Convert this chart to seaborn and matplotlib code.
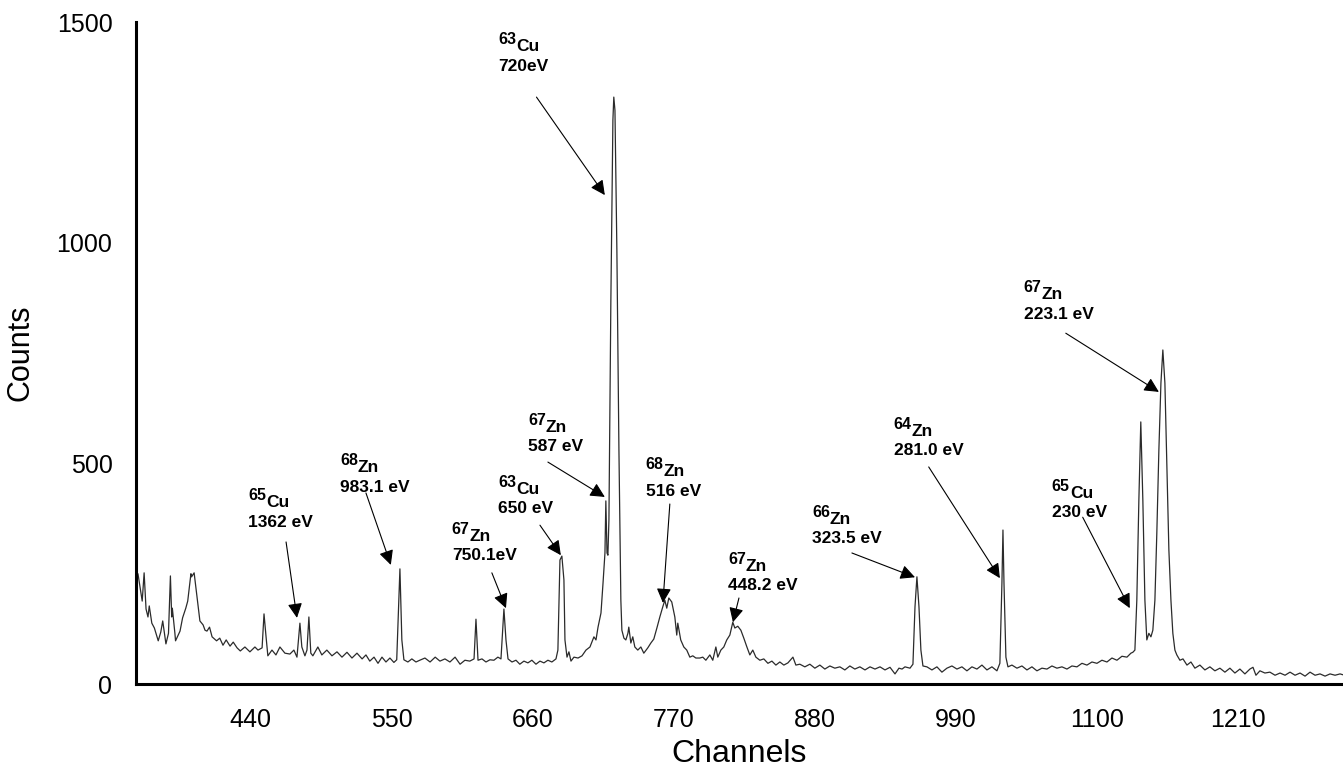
import matplotlib
matplotlib.use('Agg')
import matplotlib.pyplot as plt
import seaborn as sns
import pandas as pd

# spectrum (channel, counts)
channels = [352.2, 353.8, 355.5, 357.0, 358.5, 360.0, 361.0, 363.0, 365.0, 368.0,
            370.0, 371.5, 374.0, 376.0, 377.5, 378.5, 379.0, 381.0, 381.5, 385.0,
            387.0, 389.5, 391.0, 393.5, 394.0, 396.0, 398.0, 400.5, 403.0, 404.5,
            406.0, 408.0, 410.0, 413.5, 416.0, 418.5, 421.0, 424.0, 426.5, 429.5,
            432.0, 435.6, 439.5, 443.4, 445.8, 449.0, 450.5, 452.0, 453.5, 456.7,
            459.8, 462.9, 466.8, 470.7, 473.8, 476.2, 478.5, 480.0, 482.4, 484.0,
            485.5, 487.0, 488.6, 492.5, 495.6, 499.5, 503.5, 507.4, 511.3, 515.2,
            519.1, 523.0, 527.0, 530.0, 533.0, 536.3, 539.4, 542.5, 545.6, 548.7,
            551.8, 554.0, 556.5, 558.0, 559.6, 562.7, 565.8, 569.0, 572.0, 576.0,
            580.0, 584.0, 587.7, 591.6, 595.5, 599.5, 603.4, 607.2, 611.0, 614.3,
            615.8, 617.4, 620.5, 623.6, 626.7, 629.8, 632.9, 635.3, 637.6, 639.2,
            640.8, 643.9, 647.0, 650.0, 653.2, 656.3, 659.4, 662.6, 665.7, 668.8,
            671.9, 675.0, 678.2, 679.7, 681.3, 682.8, 684.4, 685.2, 686.8, 688.3,
            689.9, 692.2, 695.4, 698.5, 701.6, 704.7, 707.8, 709.4, 711.0, 713.3,
            714.9, 716.4, 717.1, 718.0, 718.7, 719.5, 721.0, 722.6, 723.3, 724.2,
            725.7, 727.3, 728.8, 729.6, 731.2, 732.7, 734.3, 735.0, 736.6, 738.1,
            739.7, 742.0, 744.4, 746.7, 749.8, 752.2, 754.5, 756.9, 759.2, 761.5,
            763.1, 764.6, 766.2, 768.5, 770.9, 772.4, 773.2, 775.5, 777.9, 780.2,
            782.6, 784.9, 787.3, 790.4, 792.7, 795.1, 798.2, 800.5, 802.9, 804.4,
            806.8, 809.1, 811.4, 813.8, 816.1, 817.7, 820.0, 822.4, 824.7, 827.1,
            829.4, 831.7, 834.1, 837.2, 840.3, 843.5, 846.6, 849.7, 852.8, 855.9,
            859.1, 863.0, 865.3, 868.4, 872.3, 876.2, 880.1, 884.0, 887.9, 891.8,
            895.7, 899.6, 903.5, 907.4, 911.3, 915.2, 919.2, 923.1, 927.0, 930.9,
            934.8, 938.7, 942.6, 945.7, 948.1, 950.4, 954.3, 956.6, 958.2, 959.7,
            961.3, 962.8, 964.4, 967.5, 971.4, 975.3, 979.2, 983.1, 987.0, 990.9,
            994.8, 998.7, 1002.6, 1006.5, 1010.4, 1014.3, 1018.2, 1022.1, 1024.4, 1026.0,
            1026.8, 1027.6, 1029.1, 1030.7, 1033.8, 1037.7, 1041.6, 1045.5, 1049.4, 1053.3,
            1057.2, 1061.1, 1065.0, 1068.9, 1072.8, 1076.7, 1080.6, 1084.5, 1088.4, 1092.3,
            1096.2, 1100.1, 1104.0, 1107.9, 1111.8, 1115.7, 1119.6, 1123.5, 1126.6, 1128.1,
            1129.7, 1131.2, 1132.8, 1134.3, 1135.9, 1137.5, 1139.0, 1140.6, 1142.2, 1143.7,
            1145.3, 1146.8, 1148.4, 1150.0, 1151.5, 1153.1, 1154.7, 1156.2, 1157.8, 1159.3,
            1160.9, 1162.4, 1164.8, 1167.2, 1170.3, 1173.4, 1176.5, 1180.4, 1184.3, 1188.2,
            1192.1, 1196.0, 1199.9, 1203.8, 1207.7, 1211.6, 1215.5, 1219.4, 1221.8, 1224.1,
            1227.2, 1231.1, 1235.0, 1239.0, 1242.9, 1246.8, 1250.7, 1254.6, 1258.5, 1262.4,
            1266.3, 1270.2, 1274.1, 1278.0, 1281.9, 1285.8, 1289.7, 1292.0]
counts = [250, 220, 188, 252, 170, 152, 177, 138, 127, 98,
          118, 143, 91, 115, 245, 152, 172, 115, 98, 120,
          150, 172, 188, 250, 243, 252, 204, 143, 134, 122,
          120, 129, 107, 98, 104, 88, 100, 86, 95, 82,
          75, 84, 73, 84, 77, 82, 159, 110, 64, 77,
          66, 84, 70, 68, 77, 61, 138, 84, 64, 77,
          152, 70, 64, 84, 66, 77, 64, 73, 61, 72,
          59, 70, 57, 66, 52, 61, 47, 61, 50, 59,
          49, 55, 261, 100, 55, 50, 57, 50, 54, 59,
          50, 61, 52, 57, 50, 61, 45, 54, 52, 57,
          147, 54, 57, 50, 55, 54, 61, 57, 170, 100,
          57, 50, 54, 45, 52, 48, 54, 45, 52, 48,
          54, 50, 57, 77, 281, 290, 236, 100, 61, 73,
          52, 61, 59, 64, 77, 84, 107, 100, 129, 161,
          229, 297, 415, 297, 292, 372, 866, 1278, 1330, 1300,
          983, 530, 190, 122, 104, 100, 115, 129, 93, 107,
          84, 77, 84, 70, 82, 93, 102, 127, 152, 175,
          190, 172, 195, 186, 152, 111, 138, 100, 84, 77,
          61, 64, 59, 59, 61, 54, 66, 54, 84, 61,
          77, 84, 100, 111, 140, 127, 131, 122, 104, 84,
          66, 77, 61, 54, 57, 47, 52, 43, 50, 43,
          48, 61, 43, 45, 39, 45, 36, 43, 34, 41,
          36, 39, 32, 41, 34, 39, 32, 39, 34, 39,
          32, 38, 23, 36, 34, 39, 36, 45, 175, 243,
          175, 77, 41, 39, 32, 39, 27, 36, 41, 34,
          39, 30, 39, 34, 43, 32, 39, 30, 47, 229,
          349, 229, 61, 39, 43, 36, 41, 32, 39, 30,
          36, 34, 41, 36, 39, 34, 41, 39, 47, 43,
          50, 47, 54, 50, 59, 54, 63, 61, 70, 72,
          77, 190, 417, 594, 417, 190, 100, 115, 107, 122,
          190, 342, 530, 682, 757, 682, 492, 304, 190, 115,
          77, 66, 54, 57, 43, 50, 36, 43, 32, 39,
          30, 36, 27, 36, 25, 34, 23, 34, 38, 20,
          30, 25, 27, 20, 25, 20, 27, 20, 25, 18,
          27, 20, 23, 18, 23, 20, 23, 21]

# peak labels
masses = ['65', '68', '67', '63', '67', '63', '68', '67', '66', '64', '65', '67']
elements = ['Cu', 'Zn', 'Zn', 'Cu', 'Zn', 'Cu', 'Zn', 'Zn', 'Zn', 'Zn', 'Cu', 'Zn']
energies = ['1362 eV', '983.1 eV', '750.1eV', '650 eV', '587 eV', '720eV',
            '516 eV', '448.2 eV', '323.5 eV', '281.0 eV', '230 eV', '223.1 eV']

# layout of the labels and arrows (data coords)
label_pos = [(438, 444), (509.7, 523), (597, 367), (633, 474), (656.3, 614), (633, 1477),
             (748.3, 514), (812.3, 299), (877.8, 406), (941.6, 605), (1064.9, 465), (1043, 915)]
arrow_tail = [(467.7, 322), (530, 433), (628.2, 252), (665.7, 360), (671.9, 503), (663, 1330),
              (767, 408), (820.9, 195), (909, 297), (968.9, 492), (1089, 378), (1075.8, 795)]
arrow_head = [(476.2, 150), (549.4, 270), (639.2, 172), (682, 292), (716.3, 424), (716.3, 1108),
              (761.6, 184), (816.2, 140), (958.2, 242), (1024.4, 240), (1125.7, 172), (1148.4, 662)]

sns.set_style('white')
plt.rcParams['font.family'] = ['Liberation Sans', 'DejaVu Sans']
for k in ['text.color', 'axes.labelcolor', 'xtick.color', 'ytick.color']:
    plt.rcParams[k] = 'black'

df = pd.DataFrame({'Channels': channels, 'Counts': counts})

fig = plt.figure(figsize=(13.43, 7.8), dpi=100)
ax = fig.add_axes([0.1013, 0.123, 0.8987, 0.8487])
sns.lineplot(data=df, x='Channels', y='Counts', ax=ax, color='#2b2b2b',
             lw=0.9, estimator=None, sort=False)

for m, el, en, pos, tail, head in zip(masses, elements, energies, label_pos, arrow_tail, arrow_head):
    # mass number raised, element name set a little lower, energy underneath
    ax.annotate(m, xy=pos, xytext=(0, 0), textcoords='offset points',
                ha='left', va='top', fontsize=11.5, fontweight='bold')
    ax.annotate(el, xy=pos, xytext=(13, -5), textcoords='offset points',
                ha='left', va='top', fontsize=12.5, fontweight='bold')
    ax.annotate(en, xy=pos, xytext=(0, -19), textcoords='offset points',
                ha='left', va='top', fontsize=12.5, fontweight='bold')
    ax.annotate('', xy=head, xytext=tail,
                arrowprops=dict(arrowstyle='-|>', mutation_scale=22, lw=0.8,
                                color='black', shrinkA=0, shrinkB=0))

ax.set_xlim(350.7, 1292)
ax.set_ylim(0, 1500)
ax.set_xticks([440, 550, 660, 770, 880, 990, 1100, 1210])
ax.set_yticks([0, 500, 1000, 1500])
ax.tick_params(length=0, pad=17, labelsize=18)
for s in ['top', 'right']:
    ax.spines[s].set_visible(False)
for s in ['left', 'bottom']:
    ax.spines[s].set_linewidth(2.2)
    ax.spines[s].set_color('black')
ax.set_xlabel('Channels', fontsize=23)
ax.set_ylabel('Counts', fontsize=22)
ax.xaxis.set_label_coords(0.5, -0.083)
ax.yaxis.set_label_coords(-0.083, 0.5)

fig.savefig('out.png', dpi=100)
